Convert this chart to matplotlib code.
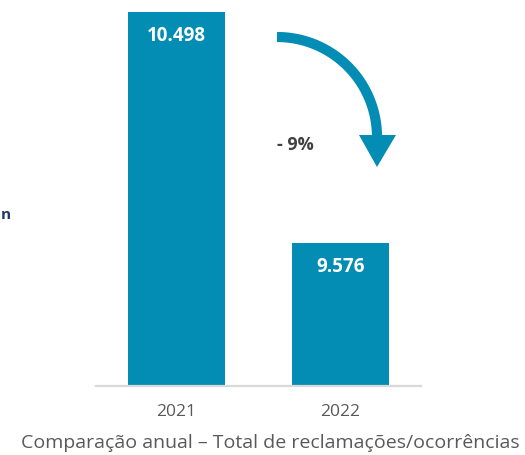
import numpy as np
import matplotlib.pyplot as plt
from matplotlib.patches import Polygon

plt.rcParams['font.family'] = ['Open Sans', 'DejaVu Sans']

years = ['2021', '2022']
totals = [10498, 9576]
labels = ['10.498', '9.576']
change_label = '- 9%'
caption = 'Comparação anual – Total de reclamações/ocorrências'

bar_color = '#038DB4'
W, H = 525, 455

fig = plt.figure(figsize=(W / 100, H / 100), dpi=100)

# main bar axes, y axis does not start at zero (like the original)
ax = fig.add_axes([96 / W, 1 - 386 / H, (421 - 96) / W, 386 / H])
x = np.arange(len(years))
bars = ax.bar(x, totals, width=0.59, color=bar_color, zorder=2)
ax.set_xlim(-0.49, 1.49)
ax.set_ylim(9005, 10546)
ax.set_xticks(x)
ax.set_xticklabels(years, fontsize=12.5, color='#595959')
ax.tick_params(axis='x', length=0, pad=13)
ax.set_yticks([])
for side in ['top', 'left', 'right']:
  ax.spines[side].set_visible(False)
ax.spines['bottom'].set_color('#D9D9D9')
ax.spines['bottom'].set_linewidth(1.6)

for b, lab in zip(bars, labels):
  ax.annotate(lab, (b.get_x() + b.get_width() / 2, b.get_height()),
              xytext=(0, -17), textcoords='offset points',
              ha='center', va='center', color='white',
              fontsize=13.5, fontweight='bold')

# overlay in pixel coordinates for arrow and free text
ov = fig.add_axes([0, 0, 1, 1], zorder=3)
ov.set_xlim(0, W)
ov.set_ylim(H, 0)
ov.axis('off')
ov.patch.set_alpha(0)

cx, cy, r = 277, 137, 100
t = np.linspace(-np.pi / 2, 0, 60)
ov.plot(cx + r * np.cos(t), cy + r * np.sin(t), color=bar_color,
        lw=7.3, solid_capstyle='butt')
ov.add_patch(Polygon([[359, 135], [396, 135], [377, 167]], closed=True,
                     color=bar_color, lw=0))

ov.text(295, 145, change_label, ha='center', va='center', color='#404040',
        fontsize=13, fontweight='bold')
ov.text(270, 443, caption, ha='center', va='center', color='#595959',
        fontsize=14)
ov.text(0.5, 215, 'n', ha='left', va='center', color='#1F3864', fontsize=11,
        fontweight='bold')

fig.savefig('out.png', dpi=100)
